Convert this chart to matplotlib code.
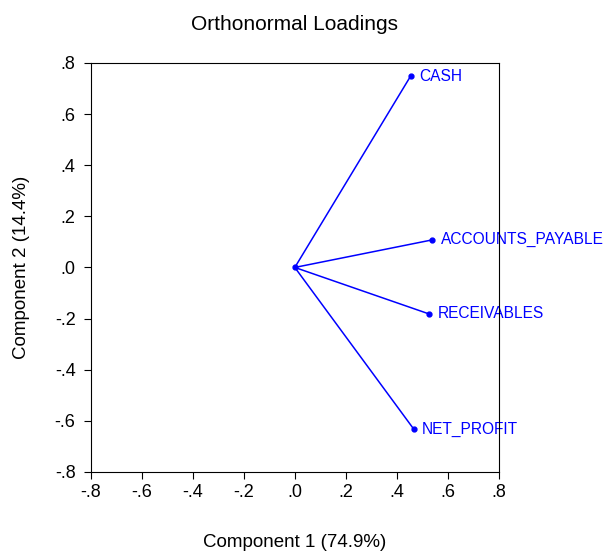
import matplotlib
matplotlib.use("Agg")
import matplotlib.pyplot as plt
from matplotlib.ticker import FuncFormatter, MultipleLocator

plt.rcParams['font.family'] = ['Liberation Sans', 'DejaVu Sans']

names = ['CASH', 'ACCOUNTS_PAYABLE', 'RECEIVABLES', 'NET_PROFIT']
comp1 = [0.454, 0.540, 0.527, 0.467]
comp2 = [0.748, 0.108, -0.182, -0.633]


def fmt(v, pos):
    s = '%.1f' % v
    if s == '-0.0':
        s = '0.0'
    return s.replace('0.', '.', 1)


fig = plt.figure(figsize=(6.06, 5.52), dpi=100)
ax = fig.add_axes([0.150, 0.145, 0.673, 0.741])

for x, y, n in zip(comp1, comp2, names):
    ax.plot([0, x], [0, y], color='blue', lw=1.1)
    ax.plot(x, y, 'o', color='blue', ms=3.5)
    ax.annotate(n, (x, y), xytext=(6, 0), textcoords='offset points',
                color='blue', fontsize=11.2, va='center',
                annotation_clip=False, zorder=1)
ax.plot(0, 0, 'o', color='blue', ms=3.5)

ax.set_xlim(-0.8, 0.8)
ax.set_ylim(-0.8, 0.8)
ax.xaxis.set_major_locator(MultipleLocator(0.2))
ax.yaxis.set_major_locator(MultipleLocator(0.2))
ax.xaxis.set_major_formatter(FuncFormatter(fmt))
ax.yaxis.set_major_formatter(FuncFormatter(fmt))
ax.tick_params(direction='out', length=5, labelsize=13)
ax.tick_params(axis='y', pad=6)
ax.set_xlabel('Component 1 (74.9%)', fontsize=13.5, labelpad=24)
ax.set_ylabel('Component 2 (14.4%)', fontsize=13.5, labelpad=18)
ax.set_title('Orthonormal Loadings', fontsize=15, pad=24)

fig.savefig('out.png', dpi=100)
